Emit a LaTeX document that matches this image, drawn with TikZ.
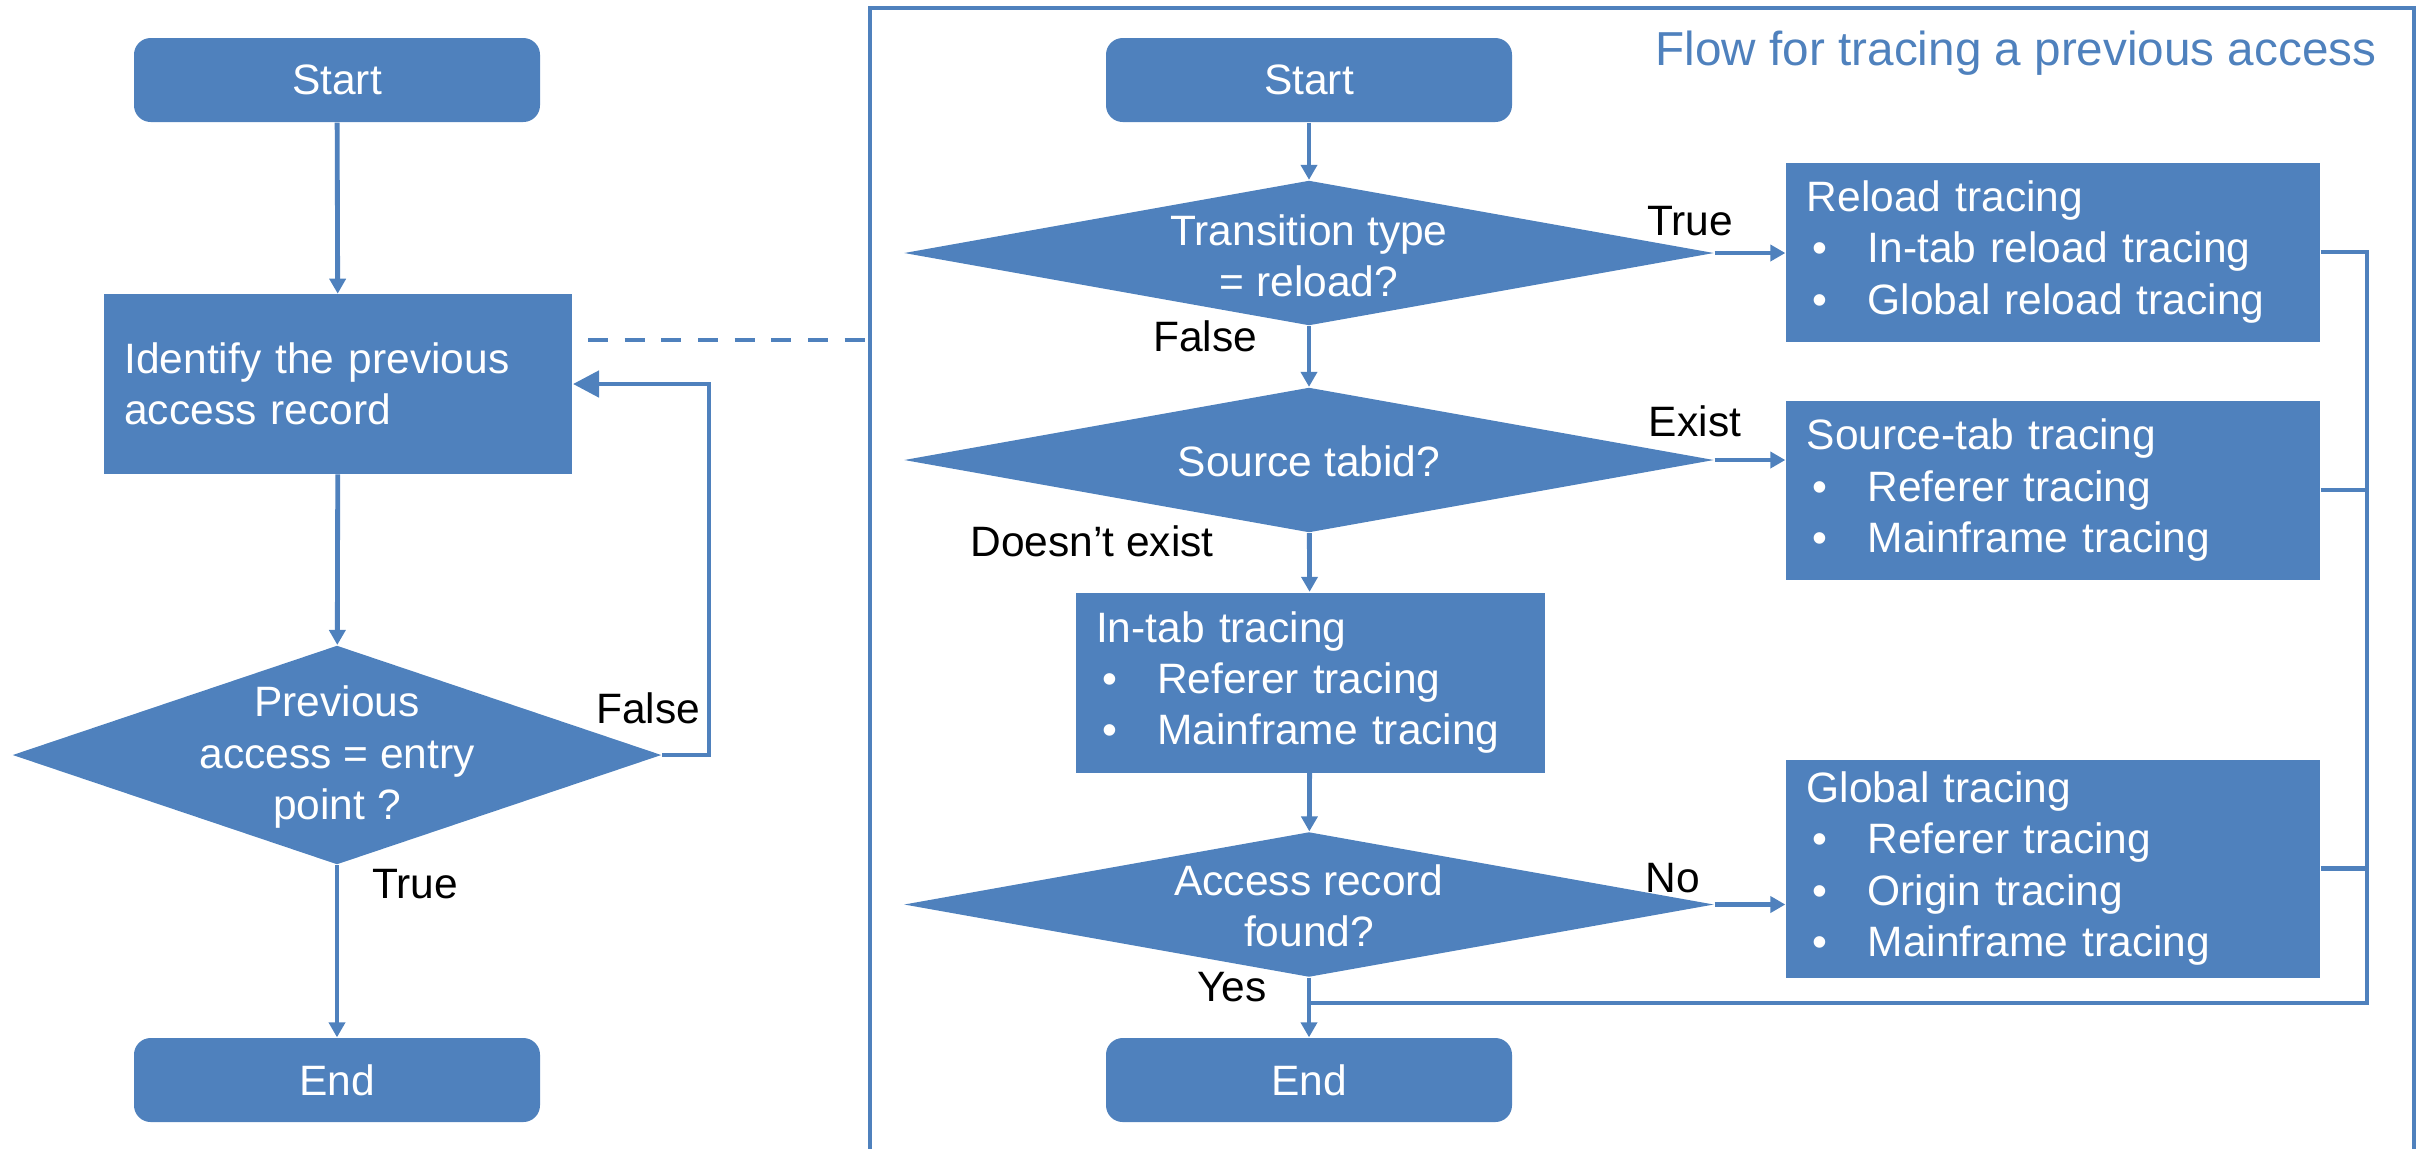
\documentclass[tikz,border=0pt]{standalone}
\usepackage{fontspec}
\setmainfont{Liberation Sans}
\usetikzlibrary{shapes.geometric,arrows.meta,calc}
\definecolor{blu}{RGB}{79,129,189}
\newcommand\bul[1]{\makebox[18.3pt][l]{\hspace{1.8pt}\textbullet}#1}
\begin{document}
\begin{tikzpicture}[x=0.3pt,y=-0.3pt,
  every node/.style={font=\fontsize{12.75}{15.4}\selectfont},
  term/.style={fill=blu, rounded corners=5pt, minimum width=121.8pt, minimum height=25.2pt, text=white, inner sep=0pt},
  proc/.style={fill=blu, text=white, align=left, inner xsep=6.2pt, inner ysep=0pt},
  dia/.style={diamond, fill=blu, inner sep=0pt, minimum width=243pt, minimum height=43.5pt},
  dtxt/.style={text=white, align=center, inner sep=0pt},
  lbl/.style={text=black, inner sep=0pt},
  conn/.style={draw=blu, line width=1.45pt, -{Triangle[length=4.5pt,width=4.8pt]}},
  bigconn/.style={draw=blu, line width=1.45pt, -{Triangle[length=7.8pt,width=7.8pt]}},
  plain/.style={draw=blu, line width=1.45pt},
]
\useasboundingbox (0,0) rectangle (2425,1148);

% frame and title
\node (frame) [draw=blu, line width=1.2pt, inner sep=0pt, minimum width=463.2pt, minimum height=345.6pt] at (1642,584) {};
\node (title) [anchor=base east, text=blu, inner sep=0pt, font=\fontsize{14.3}{17}\selectfont] at (2377,65) {Flow for tracing a previous access};

% left column
\node (startL) [term] at (337,80) {Start};
\node (ident) [proc, text width=128.2pt, minimum height=53.8pt] at (338,384) {Identify the previous\\access record};
\node (dL) [dia, minimum width=194.7pt, minimum height=65.7pt] at (337,755) {};
\node (dLt) [dtxt] at (337,757) {Previous\\access = entry\\point ?};
\node (endL) [term] at (337,1080) {End};

\draw[conn] (startL) -- (ident);
\draw[conn] (ident) -- (dL);
\draw[conn] (dL) -- (endL);
\coordinate (fl) at (709,755);
\draw[bigconn] (dL.east) -- (fl) |- (ident.east);
\node (lfalse) [lbl] at (648,708) {False};
\node (ltrue) [lbl] at (415,884) {True};

% dashed link
\coordinate (ds) at (588,340);
\draw[blu, line width=1.4pt, dash pattern=on 6pt off 5pt] (ds) -- (ds -| frame.west);

% right column
\node (startR) [term] at (1309,80) {Start};
\node (d1) [dia] at (1309,253) {};
\node (d1t) [dtxt] at (1309,256) {Transition type\\= reload?};
\node (d2) [dia] at (1309,460) {};
\node (d2t) [dtxt] at (1309,461) {Source tabid?};
\node (intab) [proc, text width=128.3pt, minimum height=54pt] at (1310,682.5) {In-tab tracing\\\bul{Referer tracing}\\\bul{Mainframe tracing}};
\node (d3) [dia] at (1309,904.5) {};
\node (d3t) [dtxt] at (1309,906) {Access record\\found?};
\node (endR) [term] at (1309,1080) {End};

\node (reload) [proc, text width=147.8pt, minimum height=53.7pt] at (2053,252) {Reload tracing\\\bul{In-tab reload tracing}\\\bul{Global reload tracing}};
\node (source) [proc, text width=147.8pt, minimum height=53.7pt] at (2053,490) {Source-tab tracing\\\bul{Referer tracing}\\\bul{Mainframe tracing}};
\node (global) [proc, text width=147.8pt, minimum height=65.4pt] at (2053,868.6) {Global tracing\\\bul{Referer tracing}\\\bul{Origin tracing}\\\bul{Mainframe tracing}};

\draw[conn] (startR) -- (d1);
\draw[conn] (d1) -- (d2);
\draw[conn] (d2) -- (intab);
\draw[conn] (intab) -- (d3);
\draw[conn] (d3) -- (endR);
\draw[conn] (d1.east) -- (d1.east -| reload.west);
\draw[conn] (d2.east) -- (d2.east -| source.west);
\draw[conn] (d3.east) -- (d3.east -| global.west);

\coordinate (bus) at (2367,1003);
\draw[plain] (reload.east) -| (bus) -- (bus -| d3.south);
\draw[plain] (source.east) -- (source.east -| bus);
\draw[plain] (global.east) -- (global.east -| bus);

\node (rtrue) [lbl] at (1690,221) {True};
\node (rfalse) [lbl] at (1205,336) {False};
\node (rexist) [lbl] at (1695,421) {Exist};
\node (rdnex) [lbl] at (1092,541) {Doesn’t exist};
\node (rno) [lbl] at (1673,878) {No};
\node (ryes) [lbl] at (1232,987) {Yes};
\end{tikzpicture}
\end{document}
